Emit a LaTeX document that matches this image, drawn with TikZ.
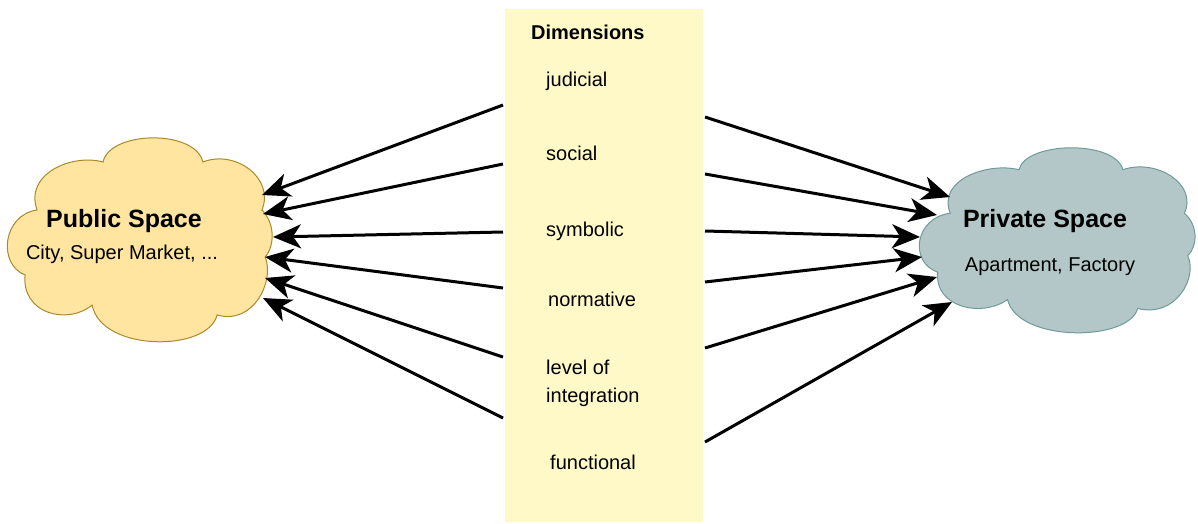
\documentclass[tikz,border=0pt]{standalone}
\usepackage{fontspec}
\setmainfont{Liberation Sans}
\usetikzlibrary{arrows.meta}
\definecolor{pubfill}{HTML}{FFE5A0}
\definecolor{pubdraw}{HTML}{A88A2A}
\definecolor{privfill}{HTML}{B4C7C8}
\definecolor{privdraw}{HTML}{6F9A9A}
\definecolor{dimfill}{HTML}{FFF9C8}
\tikzset{
  cloudshape/.pic={
    \path[pic actions] (0.356,0.122) .. controls (0.38,-0.03) and (0.70,-0.04) .. (0.73,0.122)
      .. controls (0.85,0.06) and (1.0,0.2) .. (0.951,0.356)
      .. controls (1.0,0.42) and (1.0,0.53) .. (0.963,0.585)
      .. controls (1.0,0.7) and (0.92,0.92) .. (0.783,0.868)
      .. controls (0.75,1.05) and (0.35,1.05) .. (0.315,0.82)
      .. controls (0.22,0.92) and (0.05,0.86) .. (0.064,0.673)
      .. controls (-0.04,0.62) and (-0.02,0.38) .. (0.109,0.356)
      .. controls (0.06,0.18) and (0.24,0.08) .. (0.356,0.122) -- cycle;
  },
  titletext/.style={inner sep=0pt, font=\fontsize{25}{30}\selectfont\bfseries},
  headtext/.style={inner sep=0pt, font=\fontsize{20}{24}\selectfont\bfseries},
  bodytext/.style={inner sep=0pt, font=\fontsize{20}{24}\selectfont},
  dimtext/.style={inner sep=0pt, anchor=base west, align=left, font=\fontsize{20}{28}\selectfont},
  dimbox/.style={fill=dimfill, draw=none, minimum width=198pt, minimum height=513pt, inner sep=0pt},
  conn/.style={line width=3pt, -{Stealth[length=28pt,width=24pt,inset=8pt]}}
}
\begin{document}
\begin{tikzpicture}[x=1pt,y=-1pt]
\useasboundingbox (0,0) rectangle (1198,524);
% dimensions box
\node[dimbox] (dims) at (604,265.5) {};
% clouds
\pic[fill=pubfill, draw=pubdraw, line width=1pt, xscale=267, yscale=205] (pubcloud) at (8,137) {cloudshape};
\pic[fill=privfill, draw=privdraw, line width=1pt, xscale=278, yscale=186] (privcloud) at (920,147) {cloudshape};
% cloud texts
\node[titletext, anchor=base] (pubtitle) at (124,227) {Public Space};
\node[bodytext, anchor=base] (pubsub) at (122,259) {City, Super Market, ...};
\node[titletext, anchor=base] (privtitle) at (1045,227) {Private Space};
\node[bodytext, anchor=base] (privsub) at (1050,271) {Apartment, Factory};
% dimension texts
\node[headtext, anchor=base west] (dimhead) at (531,40) {Dimensions};
\node[dimtext] (djud) at (546,87) {judicial};
\node[dimtext] (dsoc) at (546,160) {social};
\node[dimtext] (dsym) at (546,236) {symbolic};
\node[dimtext] (dnor) at (548,306) {normative};
\node[dimtext] (dlev) at (546,402) {level of\\integration};
\node[dimtext] (dfun) at (550,469) {functional};
% arrow anchor points
\coordinate (ls1) at (503,105);
\coordinate (ls2) at (503,164);
\coordinate (ls3) at (503,232);
\coordinate (ls4) at (503,288);
\coordinate (ls5) at (503,357);
\coordinate (ls6) at (503,418);
\coordinate (lt1) at (262,195);
\coordinate (lt2) at (263,214);
\coordinate (lt3) at (273,237);
\coordinate (lt4) at (265,257);
\coordinate (lt5) at (265,278);
\coordinate (lt6) at (263,298);
\coordinate (rs1) at (705,117);
\coordinate (rs2) at (705,174);
\coordinate (rs3) at (705,231);
\coordinate (rs4) at (705,282);
\coordinate (rs5) at (705,348);
\coordinate (rs6) at (705,442);
\coordinate (rt1) at (950,197);
\coordinate (rt2) at (937,215);
\coordinate (rt3) at (920,237);
\coordinate (rt4) at (922,257);
\coordinate (rt5) at (937,277);
\coordinate (rt6) at (952,302);
\foreach \i in {1,...,6}{
  \draw[conn] (ls\i) -- (lt\i);
  \draw[conn] (rs\i) -- (rt\i);
}
\end{tikzpicture}
\end{document}
